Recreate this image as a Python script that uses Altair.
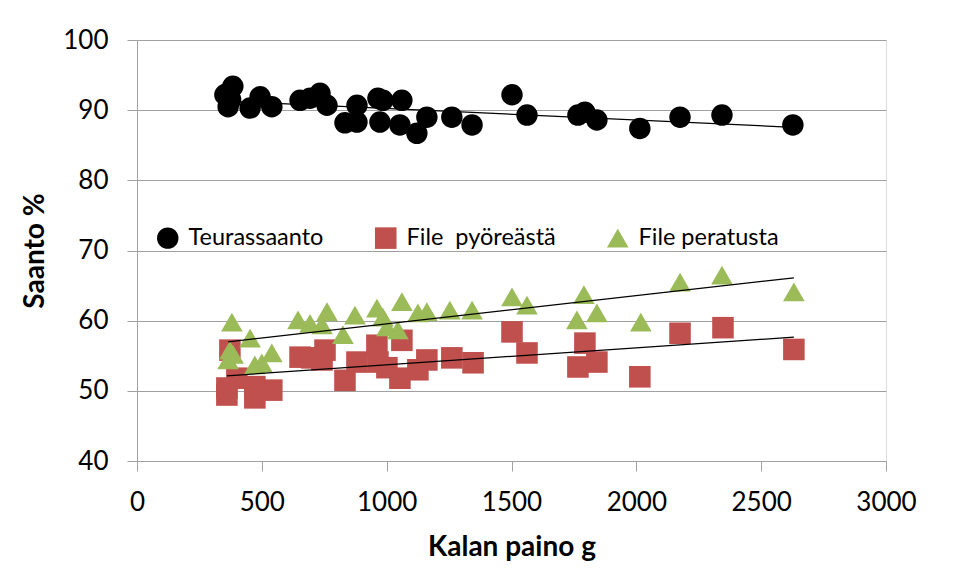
import altair as alt
import pandas as pd

# Teurassaanto (black circles)
teur_x = [352, 365, 384, 375, 370, 453, 493, 540, 653, 693, 733, 761, 833, 881, 881, 965, 985, 973,
          1061, 1053, 1121, 1161, 1261, 1342, 1502, 1562, 1766, 1794, 1842, 2014, 2175, 2343, 2627]
teur_y = [92.2, 90.5, 93.4, 91.5, 92.6, 90.3, 91.9, 90.5, 91.4, 91.7, 92.4, 90.7, 88.2, 90.7, 88.3, 91.7, 91.4, 88.3,
          91.4, 87.9, 86.7, 89.0, 89.0, 87.9, 92.2, 89.3, 89.3, 89.7, 88.6, 87.4, 89.0, 89.3, 87.9]

# File pyöreästä (red squares)
pyo_x = [372, 360, 360, 400, 472, 472, 540, 653, 700, 753, 741, 833, 881, 961, 965, 1001, 1053, 1061,
         1125, 1161, 1261, 1346, 1502, 1562, 1766, 1794, 1842, 2014, 2175, 2347, 2631]
pyo_y = [55.8, 50.4, 49.4, 51.8, 50.6, 49.0, 50.1, 54.8, 54.7, 55.8, 54.4, 51.5, 54.1, 56.5, 54.1, 53.3, 51.8, 57.2,
         53.0, 54.4, 54.7, 54.0, 58.4, 55.4, 53.4, 56.8, 54.1, 52.0, 58.2, 59.0, 55.9]

# File peratusta (green triangles)
per_x = [380, 453, 372, 365, 385, 472, 500, 540, 645, 693, 741, 761, 825, 873, 961, 985, 1001, 1045,
         1061, 1125, 1161, 1253, 1342, 1502, 1562, 1762, 1790, 1842, 2018, 2175, 2343, 2631]
per_y = [59.8, 57.5, 55.8, 54.4, 55.2, 53.7, 54.0, 55.4, 60.1, 59.6, 59.4, 61.3, 58.0, 60.8, 61.8, 60.5, 59.1, 58.7,
         62.7, 61.1, 61.3, 61.5, 61.5, 63.4, 62.2, 60.1, 63.7, 61.1, 59.8, 65.5, 66.5, 64.1]

series_names = ["Teurassaanto", "File\u00a0 pyöreästä", "File peratusta"]
series_colors = ["#000000", "#C0504D", "#9BBB59"]
series_shapes = ["circle", "square", "triangle-up"]
series_sizes = [460, 470, 576]

x_ticks = [0, 500, 1000, 1500, 2000, 2500, 3000]
y_ticks = [40, 50, 60, 70, 80, 90, 100]

rows = []
for name, xs, ys in zip(series_names, [teur_x, pyo_x, per_x], [teur_y, pyo_y, per_y]):
    for xv, yv in zip(xs, ys):
        rows.append({"series": name, "x": xv, "y": yv})
df = pd.DataFrame(rows)

FONT = "Lato"
GRID = "#a0a0a0"

legend = alt.Legend(
    orient="none", legendX=19, legendY=186, direction="horizontal", title=None,
    labelFont=FONT, labelFontSize=23.5, labelColor="#000000", symbolSize=289,
    labelOffset=9, columnPadding=50, padding=0, symbolStrokeWidth=0, symbolOpacity=1,
    labelLimit=400,
)

x_enc = alt.X("x:Q", scale=alt.Scale(domain=[0, 3000], nice=False),
              axis=alt.Axis(values=x_ticks, format="d", title="Kalan paino g", grid=False,
                            domainColor=GRID, tickColor=GRID, tickSize=10,
                            labelFont=FONT, labelFontSize=26, labelColor="#000000",
                            labelPadding=18, labelFlush=False,
                            titleFont=FONT, titleFontSize=28, titleFontWeight="bold",
                            titleColor="#000000", titleY=86, titleBaseline="middle"))
y_enc = alt.Y("y:Q", scale=alt.Scale(domain=[40, 100], nice=False),
              axis=alt.Axis(values=y_ticks, format="d", title="Saanto %", grid=True, gridColor=GRID,
                            domainColor=GRID, tickColor=GRID, tickSize=10,
                            labelFont=FONT, labelFontSize=26, labelColor="#000000",
                            labelPadding=19,
                            titleFont=FONT, titleFontSize=28, titleFontWeight="bold",
                            titleColor="#000000", titleX=-102, titleY=210.5,
                            titleBaseline="middle", titleAngle=270))

points = alt.Chart(df).mark_point(filled=True, opacity=1, strokeWidth=0).encode(
    x=x_enc,
    y=y_enc,
    color=alt.Color("series:N", scale=alt.Scale(domain=series_names, range=series_colors), legend=legend),
    shape=alt.Shape("series:N", scale=alt.Scale(domain=series_names, range=series_shapes), legend=legend),
    size=alt.Size("series:N", scale=alt.Scale(domain=series_names, range=series_sizes), legend=None),
    order=alt.Order("ord:Q"),
).transform_calculate(
    ord="indexof(['Teurassaanto','File\u00a0 pyöreästä','File peratusta'], datum.series)"
)

trend = alt.Chart(df).transform_regression("x", "y", groupby=["series"]).mark_line(
    color="#000000", strokeWidth=1.2
).encode(x="x:Q", y="y:Q", detail="series:N")

chart = alt.layer(points, trend).properties(
    width=749, height=421,
    autosize=alt.AutoSizeParams(type="none"),
    padding={"left": 129, "top": 32, "right": 66, "bottom": 111},
).configure_view(stroke=None).configure(background="white")

chart.save("out.html", embed_options={"renderer": "svg", "actions": False})
